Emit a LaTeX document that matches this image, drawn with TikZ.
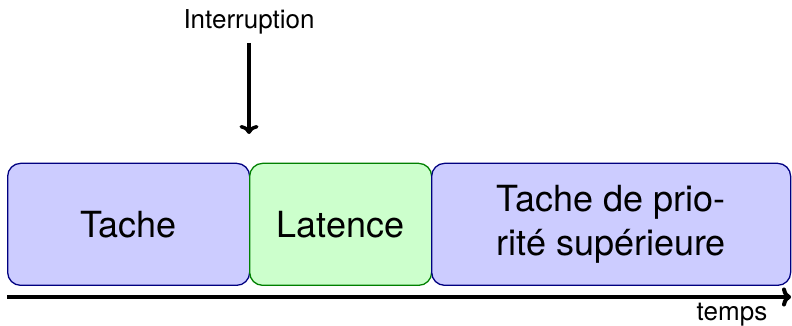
\documentclass[tikz,border=0pt]{standalone}
\usepackage{fontspec}
\setmainfont{TeX Gyre Heros}
\usetikzlibrary{arrows.meta}
\tikzset{
  bluebox/.style={draw=blue!50!black, fill=blue!20, line width=1.3pt, rounded corners=13pt, anchor=south west, inner sep=0pt, align=center, font=\fontsize{36}{44}\selectfont},
  greenbox/.style={bluebox, draw=green!50!black, fill=green!20},
  smalltext/.style={font=\fontsize{26}{31}\selectfont, inner sep=0pt},
  bigarrow/.style={-{To[length=9pt,width=19pt]}, line width=3.5pt},
}
\begin{document}
\begin{tikzpicture}[x=1pt,y=1pt]
\useasboundingbox (0,0) rectangle (792,326);
\node[bluebox, minimum width=242pt, minimum height=122pt] (tache) at (7,40) {Tache};
\node[greenbox, minimum width=182pt, minimum height=122pt] (lat) at (249,40) {Latence};
\node[bluebox, minimum width=359pt, minimum height=122pt] (prio) at (431,40) {Tache de prio-\\rité supérieure};
\coordinate (a0) at (7,29);
\coordinate (a1) at (791,29);
\draw[bigarrow, line width=4pt] (a0) -- (a1);
\node[smalltext, anchor=base] (temps) at (732,5) {temps};
\node[smalltext, anchor=base] (intr) at (249,297) {Interruption};
\coordinate (i0) at (249,283);
\coordinate (i1) at (249,192);
\draw[bigarrow] (i0) -- (i1);
\end{tikzpicture}
\end{document}
